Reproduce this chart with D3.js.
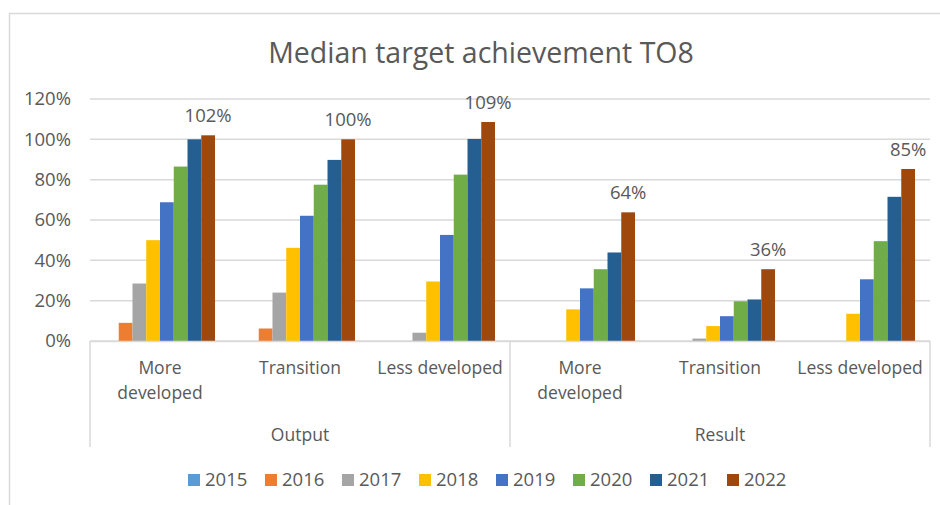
<!doctype html>
<html>
<head>
<meta charset="utf-8"/>
<title>Median target achievement TO8</title>
<script src="https://d3js.org/d3.v7.min.js"></script>
<style>
  body { margin:0; background:#fff; }
  text { font-family:"Open Sans", "Noto Sans", sans-serif; fill:#595959; }
</style>
</head>
<body>
<script>
// chart data
const groups     = ["Output", "Result"];
const categories = ["More developed", "Transition", "Less developed"];
const years      = ["2015", "2016", "2017", "2018", "2019", "2020", "2021", "2022"];
const colors     = ["#5B9BD5", "#ED7D31", "#A5A5A5", "#FFC000", "#4472C4", "#70AD47", "#255E91", "#9E480E"];

// one row per category (Output x3, Result x3), one value per year; null = no bar
const outputMore   = [null, 0.09, 0.285, 0.50, 0.688, 0.865, 1.00, 1.02];
const outputTrans  = [null, 0.062, 0.24, 0.462, 0.621, 0.775, 0.898, 1.00];
const outputLess   = [null, null, 0.041, 0.295, 0.526, 0.825, 1.002, 1.086];
const resultMore   = [null, null, null, 0.157, 0.261, 0.356, 0.439, 0.638];
const resultTrans  = [null, null, 0.012, 0.074, 0.123, 0.197, 0.206, 0.356];
const resultLess   = [null, null, null, 0.135, 0.306, 0.495, 0.715, 0.853];

const rows = [outputMore, outputTrans, outputLess, resultMore, resultTrans, resultLess];
const yTicks = [0, 0.2, 0.4, 0.6, 0.8, 1.0, 1.2];

const W = 940, H = 505;
const svg = d3.select("body").append("svg").attr("width", W).attr("height", H);

// chart border (left + top visible)
svg.append("path").attr("d", "M9.5,505 V13.5 H940")
   .attr("fill", "none").attr("stroke", "#d9d9d9").attr("stroke-width", 1.5);

// title
svg.append("text").attr("x", 481).attr("y", 63).attr("text-anchor", "middle")
   .style("font-size", "28.5px").text("Median target achievement TO8");

const left = 90, right = 930;
const x0 = d3.scaleBand().domain(d3.range(rows.length)).range([left, right]);
const x1 = d3.scaleBand().domain(years).range([0, x0.bandwidth()]).paddingInner(0).paddingOuter(1.09);
const y  = d3.scaleLinear().domain([0, 1.2]).range([341, 99]);

// gridlines
svg.selectAll(".grid").data(yTicks).enter().append("line")
   .attr("x1", left).attr("x2", right)
   .attr("y1", d => y(d)).attr("y2", d => y(d))
   .attr("stroke", "#d9d9d9").attr("stroke-width", 1.5);

// y tick labels
svg.selectAll(".ytick").data(yTicks).enter().append("text")
   .attr("x", 71).attr("y", d => y(d)).attr("dy", "0.35em")
   .attr("text-anchor", "end").style("font-size", "18.5px")
   .text(d3.format(".0%"));

// bars
const cat = svg.selectAll(".cat").data(rows).enter().append("g")
   .attr("transform", (d, i) => `translate(${x0(i)},0)`);

cat.selectAll("rect").data(d => d.map((v, j) => ({ v, j }))).enter()
   .filter(d => d.v !== null)
   .append("rect")
   .attr("x", d => x1(years[d.j]))
   .attr("width", x1.bandwidth())
   .attr("y", d => y(d.v))
   .attr("height", d => y(0) - y(d.v))
   .attr("fill", d => colors[d.j]);

// data labels for 2022
const last = years.length - 1;
cat.append("text")
   .attr("x", x1(years[last]) + x1.bandwidth() / 2)
   .attr("y", d => y(d[last]) - 13)
   .attr("text-anchor", "middle").style("font-size", "18.5px")
   .text(d => d3.format(".0%")(d[last]));

// category axis: baseline and group separators
svg.append("line").attr("x1", left).attr("x2", right).attr("y1", 341.5).attr("y2", 341.5)
   .attr("stroke", "#d9d9d9").attr("stroke-width", 1.5);
[0, 3, 6].forEach(i => {
  const xx = i < rows.length ? x0(i) : right;
  svg.append("line").attr("x1", xx).attr("x2", xx).attr("y1", 341).attr("y2", 447)
     .attr("stroke", "#d9d9d9").attr("stroke-width", 1.5);
});

// category labels (wrapped like Excel)
rows.forEach((r, i) => {
  const name = categories[i % categories.length];
  const lines = name === "More developed" ? ["More", "developed"] : [name];
  const t = svg.append("text").attr("text-anchor", "middle").style("font-size", "17.5px")
     .attr("x", x0(i) + x0.bandwidth() / 2).attr("y", 374);
  lines.forEach((l, k) => t.append("tspan")
     .attr("x", x0(i) + x0.bandwidth() / 2).attr("dy", k ? 25 : 0).text(l));
});

// group labels
groups.forEach((g, gi) => {
  const a = x0(gi * 3), b = gi * 3 + 3 < rows.length ? x0(gi * 3 + 3) : right;
  svg.append("text").attr("x", (a + b) / 2).attr("y", 441)
     .attr("text-anchor", "middle").style("font-size", "17.5px").text(g);
});

// legend
const leg = svg.selectAll(".leg").data(years).enter().append("g")
   .attr("transform", (d, i) => `translate(${188 + i * 77},474)`);
leg.append("rect").attr("width", 12).attr("height", 12).attr("fill", (d, i) => colors[i]);
leg.append("text").attr("x", 17).attr("y", 6).attr("dy", "0.35em")
   .style("font-size", "18.5px").text(d => d);
</script>
</body>
</html>
